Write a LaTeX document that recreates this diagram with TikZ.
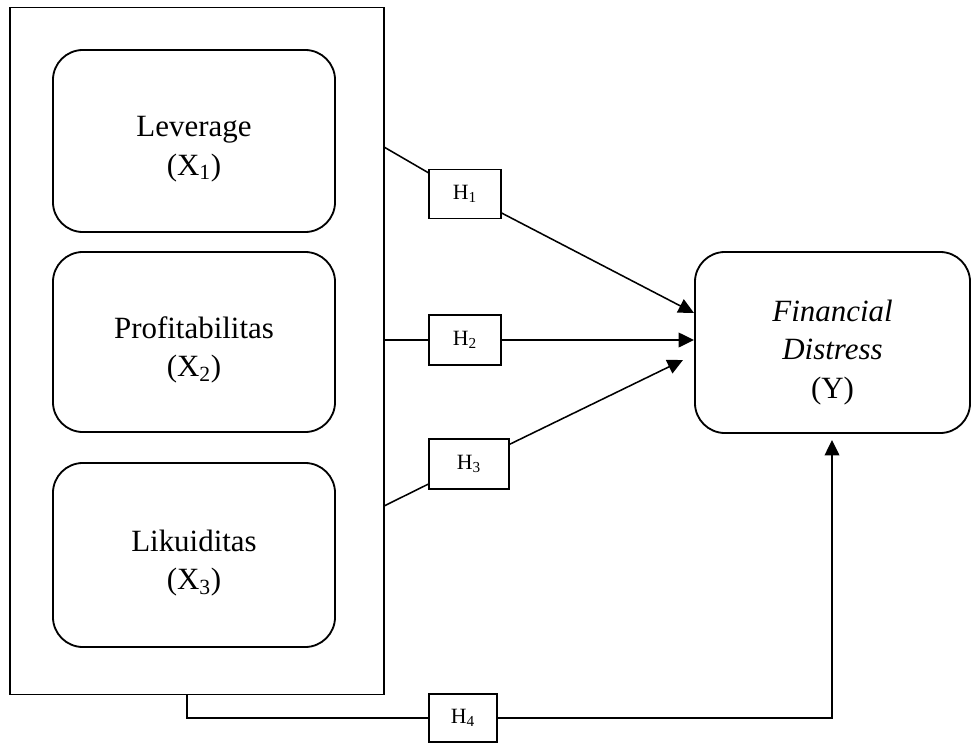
\documentclass[tikz,border=0pt]{standalone}
\usepackage{fontspec}
\setmainfont{Liberation Serif}
\usetikzlibrary{arrows.meta}

\begin{document}
\begin{tikzpicture}[
            x=0.025cm, y=-0.025cm, % one unit is one pixel of the reference
            every node/.style={align=center},
            varbox/.style={draw, line width=1.3pt, rounded corners=0.75cm, inner sep=0pt},
            vartext/.style={font=\fontsize{22}{27.5}\selectfont, inner sep=0pt},
            hypbox/.style={draw, fill=white, line width=1.2pt, inner sep=0pt,
                font=\fontsize{15.5}{18}\selectfont},
            link/.style={line width=1.1pt},
            arrowlink/.style={line width=1.1pt, -{Triangle[length=11pt, width=10.5pt]}}
        ]

            % 1. Fix the page size
            \useasboundingbox (0,0) rectangle (972,743);

            % 2. The frame round the independent variables
            \node[draw, line width=0.8pt, minimum width=9.35cm, minimum height=17.15cm] (outer) at (197,351) {};

            % 3. Independent variables
            \node[varbox, minimum width=7.05cm, minimum height=4.55cm] (lev) at (194,141) {};
            \node[varbox, minimum width=7.05cm, minimum height=4.5cm] (pro) at (194,342) {};
            \node[varbox, minimum width=7.05cm, minimum height=4.6cm] (lik) at (194,555) {};
            \node[vartext] (levtext) at ([yshift=-0.2cm]lev.center) {Leverage\\(X\textsubscript{1})};
            \node[vartext] (protext) at ([yshift=-0.2cm]pro.center) {Profitabilitas\\(X\textsubscript{2})};
            \node[vartext] (liktext) at ([yshift=-0.2cm]lik.center) {Likuiditas\\(X\textsubscript{3})};

            % 4. Dependent variable
            \node[varbox, minimum width=6.875cm, minimum height=4.525cm] (fin) at (832.5,342.5) {};
            \node[vartext] (fintext) at ([yshift=-0.25cm]fin.center) {\textit{Financial}\\\textit{Distress}\\(Y)};

            % 5. Connector ends
            \coordinate (s1) at (384,147);
            \coordinate (s2) at (384,340);
            \coordinate (s3) at (384,506);
            \coordinate (s4) at (187,694);
            \coordinate (t1) at (694,313);
            \coordinate (t2) at (694,340);
            \coordinate (t3) at (683,360);
            \coordinate (t4) at (832,440);

            % 6. Hypotheses
            \node[hypbox, minimum width=1.8cm, minimum height=1.225cm] (h1) at (465,194) {H\textsubscript{1}};
            \node[hypbox, minimum width=1.8cm, minimum height=1.25cm] (h2) at (465,340) {H\textsubscript{2}};
            \node[hypbox, minimum width=2.0cm, minimum height=1.25cm] (h3) at (469,464) {H\textsubscript{3}};
            \node[hypbox, minimum width=1.7cm, minimum height=1.2cm] (h4) at (463,718) {H\textsubscript{4}};

            % 7. Connectors
            \draw[link] (s1) -- (h1);
            \draw[arrowlink] (h1) -- (t1);
            \draw[link] (s2) -- (h2);
            \draw[arrowlink] (h2) -- (t2);
            \draw[link] (s3) -- (h3);
            \draw[arrowlink] (h3) -- (t3);
            \draw[link] (s4) |- (h4);
            \draw[arrowlink] (h4) -| (t4);

        \end{tikzpicture}
\end{document}
